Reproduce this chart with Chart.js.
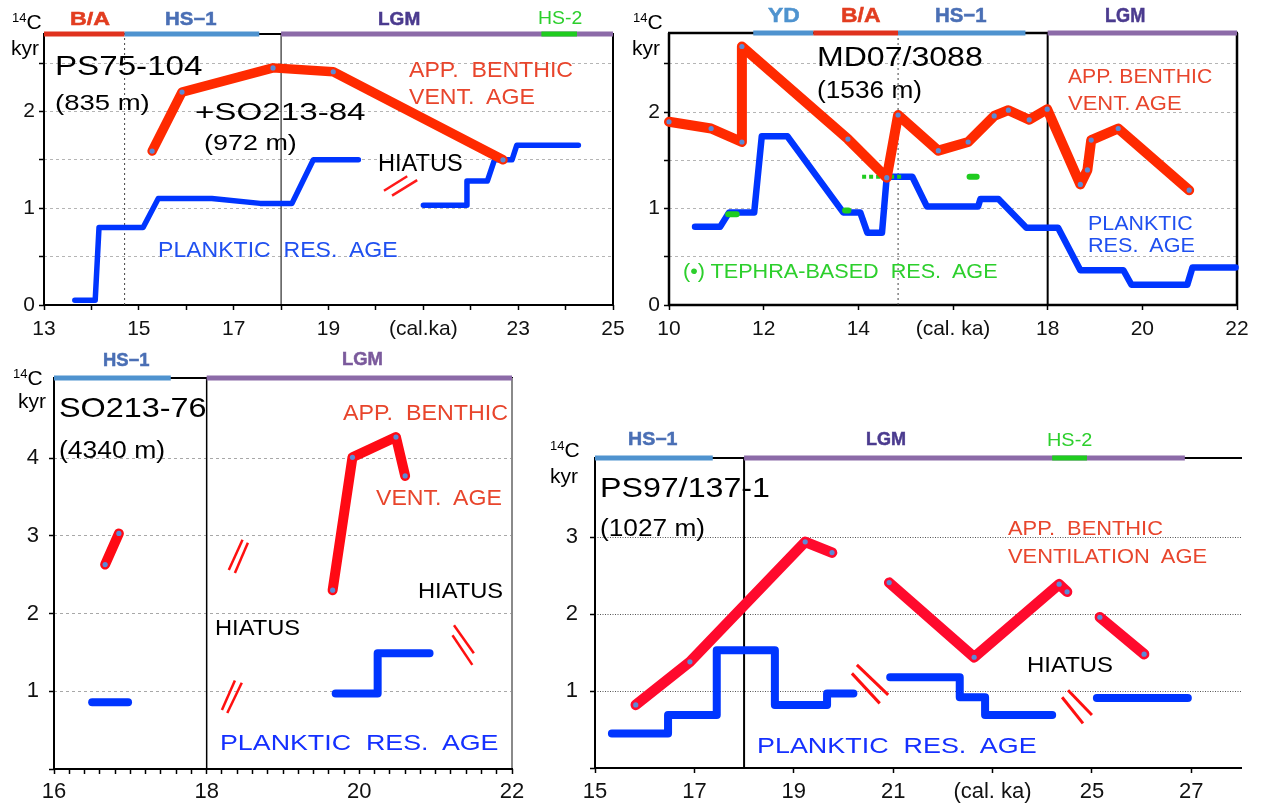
<!DOCTYPE html>
<html>
<head>
<meta charset="utf-8">
<script src="https://cdn.jsdelivr.net/npm/chart.js@4/dist/chart.umd.min.js"></script>
<style>
  body { margin:0; background:#fff; width:1264px; height:808px; position:relative; overflow:hidden;
         font-family:'Liberation Sans', Arial, sans-serif; color:#000; }
  canvas { position:absolute; }
  .t { position:absolute; white-space:pre; line-height:1; transform-origin:0 0; display:inline-block; }
  .t sup { font-size:13px; vertical-align:0; position:relative; top:-7px; }
  .p { font-weight:bold; -webkit-text-stroke:0.5px currentColor; }
  .red { color:#e8452c; }
  .blu { color:#2050f0; }
  .blu2 { color:#1530ff; }
  .grn { color:#2ccf2c; }
</style>
</head>
<body>

<canvas id="c1" width="640" height="340" style="left:0;top:0"></canvas>
<canvas id="c2" width="636" height="340" style="left:628px;top:0"></canvas>
<canvas id="c3" width="540" height="458" style="left:0;top:350px"></canvas>
<canvas id="c4" width="724" height="388" style="left:540px;top:420px"></canvas>

<!-- panel 1 : PS75-104 -->
<div class="t" style="left:12px;top:11px;font-size:21px"><sup>14</sup>C</div>
<div class="t" style="left:11px;top:37px;font-size:21px">kyr</div>
<div class="t p" style="left:70px;top:10px;font-size:18px;color:#e23d20" data-w="40">B/A</div>
<div class="t p" style="left:165px;top:10px;font-size:18px;color:#4a6fb5" data-w="52">HS−1</div>
<div class="t p" style="left:378px;top:9px;font-size:19px;color:#4b3b8f" data-w="42">LGM</div>
<div class="t grn" style="left:538px;top:8px;font-size:19px" data-w="44">HS-2</div>
<div class="t" style="left:55px;top:52px;font-size:28px" data-w="148">PS75-104</div>
<div class="t" style="left:55px;top:92px;font-size:22px" data-w="95">(835 m)</div>
<div class="t" style="left:195px;top:100px;font-size:24px" data-w="170">+SO213-84</div>
<div class="t" style="left:204px;top:132px;font-size:22px" data-w="93">(972 m)</div>
<div class="t red" style="left:409px;top:59px;font-size:22px" data-w="164">APP.  BENTHIC</div>
<div class="t red" style="left:409px;top:86px;font-size:22px" data-w="126">VENT.  AGE</div>
<div class="t" style="left:378px;top:152px;font-size:23px" data-w="85">HIATUS</div>
<div class="t blu" style="left:158px;top:239px;font-size:22px" data-w="240">PLANKTIC  RES.  AGE</div>

<!-- panel 2 : MD07/3088 -->
<div class="t" style="left:633px;top:11px;font-size:21px"><sup>14</sup>C</div>
<div class="t" style="left:632px;top:37px;font-size:21px">kyr</div>
<div class="t p" style="left:768px;top:5px;font-size:20px;color:#4f93cf" data-w="32">YD</div>
<div class="t p" style="left:841px;top:5px;font-size:20px;color:#e23d20" data-w="39">B/A</div>
<div class="t p" style="left:935px;top:5px;font-size:20px;color:#4a6fb5" data-w="52">HS−1</div>
<div class="t p" style="left:1105px;top:5px;font-size:20px;color:#4b3b8f" data-w="40">LGM</div>
<div class="t" style="left:817px;top:43px;font-size:28px" data-w="166">MD07/3088</div>
<div class="t" style="left:817px;top:79px;font-size:23px" data-w="105">(1536 m)</div>
<div class="t red" style="left:1068px;top:65px;font-size:21px" data-w="144">APP. BENTHIC</div>
<div class="t red" style="left:1068px;top:92px;font-size:21px" data-w="114">VENT. AGE</div>
<div class="t blu" style="left:1088px;top:212px;font-size:21px" data-w="105">PLANKTIC</div>
<div class="t blu" style="left:1088px;top:234px;font-size:21px" data-w="107">RES.  AGE</div>
<div class="t grn" style="left:683px;top:260px;font-size:21px" data-w="315">(•) TEPHRA-BASED  RES.  AGE</div>

<!-- panel 3 : SO213-76 -->
<div class="t" style="left:13px;top:367px;font-size:21px"><sup>14</sup>C</div>
<div class="t" style="left:18px;top:390px;font-size:21px">kyr</div>
<div class="t p" style="left:103px;top:351px;font-size:18px;color:#4a6fb5" data-w="47">HS−1</div>
<div class="t p" style="left:342px;top:350px;font-size:18px;color:#7b5a9c" data-w="41">LGM</div>
<div class="t" style="left:59px;top:394px;font-size:28px" data-w="148">SO213-76</div>
<div class="t" style="left:59px;top:439px;font-size:23px" data-w="106">(4340 m)</div>
<div class="t red" style="left:343px;top:402px;font-size:22px" data-w="165">APP.  BENTHIC</div>
<div class="t red" style="left:376px;top:487px;font-size:22px" data-w="126">VENT.  AGE</div>
<div class="t" style="left:215px;top:617px;font-size:22px" data-w="85">HIATUS</div>
<div class="t" style="left:418px;top:580px;font-size:22px" data-w="85">HIATUS</div>
<div class="t blu2" style="left:220px;top:732px;font-size:22px" data-w="279">PLANKTIC  RES.  AGE</div>

<!-- panel 4 : PS97/137-1 -->
<div class="t" style="left:550px;top:439px;font-size:21px"><sup>14</sup>C</div>
<div class="t" style="left:550px;top:465px;font-size:21px">kyr</div>
<div class="t p" style="left:628px;top:430px;font-size:18px;color:#4a6fb5" data-w="50">HS−1</div>
<div class="t p" style="left:866px;top:430px;font-size:18px;color:#4b3b8f" data-w="40">LGM</div>
<div class="t grn" style="left:1047px;top:430px;font-size:19px" data-w="45">HS-2</div>
<div class="t" style="left:600px;top:474px;font-size:28px" data-w="170">PS97/137-1</div>
<div class="t" style="left:600px;top:517px;font-size:23px" data-w="105">(1027 m)</div>
<div class="t red" style="left:1008px;top:517px;font-size:21px" data-w="155">APP.  BENTHIC</div>
<div class="t red" style="left:1008px;top:545px;font-size:21px" data-w="199">VENTILATION  AGE</div>
<div class="t" style="left:1027px;top:654px;font-size:22px" data-w="86">HIATUS</div>
<div class="t blu2" style="left:757px;top:735px;font-size:22px" data-w="280">PLANKTIC  RES.  AGE</div>

<script>
// ---------- PS75-104 (+SO213-84) ----------
const ps75Benthic = [[15.28,1.59],[15.91,2.20],[17.83,2.45],[19.10,2.41],[22.68,1.50]];
const ps75Planktic1 = [[13.65,0.05],[14.08,0.05],[14.16,0.80],[15.09,0.80],[15.41,1.10],[16.54,1.10],[17.56,1.05],[18.23,1.05],[18.68,1.50],[19.63,1.50]];
const ps75Planktic2 = [[21.00,1.03],[21.92,1.03],[21.92,1.28],[22.35,1.28],[22.50,1.50],[22.87,1.50],[22.97,1.65],[24.27,1.65]];
const ps75Hiatus = [[[20.17,1.18],[20.66,1.33]], [[20.34,1.13],[20.87,1.29]]];
const ps75Periods = [['B/A',13,14.7],['HS-1',14.7,17.54],['LGM',18,25],['HS-2',23.49,24.24]];
const ps75Dotted = [14.7];
const ps75Solid = [18];
const ps75XTicks = [13,14,15,16,17,18,19,20,21,22,23,24,25];
const ps75XLabels = ['13','','15','','17','','19','','(cal.ka)','','23','','25'];
const ps75YTicks = [0,0.5,1,1.5,2,2.5];
const ps75YLabels = ['0','','1','','2',''];

// ---------- MD07/3088 ----------
const md07Benthic = [[10.00,1.90],[10.89,1.83],[11.54,1.69],[11.54,2.68],[13.78,1.72],[14.60,1.32],[14.84,1.97],[15.69,1.60],
                     [16.32,1.69],[16.87,1.96],[17.17,2.02],[17.61,1.92],[17.99,2.03],[18.69,1.25],[18.84,1.40],[18.92,1.71],[19.49,1.83],[20.99,1.19]];
const md07Planktic = [[10.55,0.81],[11.08,0.81],[11.27,0.96],[11.80,0.96],[11.96,1.75],[12.50,1.75],[13.68,0.96],[14.04,0.96],[14.19,0.75],
                      [14.50,0.75],[14.60,1.33],[15.14,1.33],[15.45,1.02],[16.53,1.02],[16.58,1.10],[16.96,1.10],[17.55,0.80],[18.22,0.80],
                      [18.69,0.36],[19.60,0.36],[19.77,0.21],[20.95,0.21],[21.06,0.39],[21.97,0.39]];
const md07TephraLine = [[14.08,1.33],[14.93,1.33]];
const md07TephraDots = [[[11.25,0.94],[11.43,0.94]], [[13.72,0.98],[13.79,0.98]], [[16.35,1.33],[16.50,1.33]]];
const md07Periods = [['YD',11.78,13.05],['B/A',13.05,14.84],['HS-1',14.84,17.53],['LGM',18,22]];
const md07Dotted = [14.84];
const md07Solid = [18];
const md07XTicks = [10,12,14,16,18,20,22];
const md07XLabels = ['10','12','14','(cal. ka)','18','20','22'];
const md07YTicks = [0,0.5,1,1.5,2,2.5];
const md07YLabels = ['0','','1','','2',''];

// ---------- SO213-76 ----------
const so76Benthic1 = [[16.67,2.63],[16.85,3.03]];
const so76Benthic2 = [[19.65,2.30],[19.91,4.01],[20.48,4.27],[20.60,3.77]];
const so76Planktic1 = [[16.50,0.86],[16.97,0.86]];
const so76Planktic2 = [[19.69,0.97],[20.24,0.97],[20.24,1.49],[20.92,1.49]];
const so76Hiatus = [[[18.29,2.56],[18.47,2.95]], [[18.37,2.52],[18.54,2.91]],
                    [[18.20,0.76],[18.37,1.14]], [[18.27,0.72],[18.46,1.11]],
                    [[21.24,1.85],[21.50,1.49]], [[21.22,1.72],[21.48,1.34]]];
const so76Periods = [['HS-1',16,17.53],['LGM',18,22]];
const so76Solid = [18];
const so76XLabelled = [16,18,20,22];
const so76YTicks = [0,1,2,3,4];
const so76YLabels = ['','1','2','3','4'];

// ---------- PS97/137-1 ----------
const ps97Benthic1 = [[15.82,0.82],[16.91,1.38],[19.23,2.94],[19.77,2.80]];
const ps97Benthic2 = [[20.92,2.41],[22.63,1.44],[24.34,2.39],[24.50,2.29]];
const ps97Benthic3 = [[25.16,1.96],[26.05,1.48]];
const ps97Planktic1 = [[15.34,0.45],[16.47,0.45],[16.47,0.69],[17.45,0.69],[17.45,1.53],[18.62,1.53],[18.62,0.82],[19.67,0.82],[19.67,0.97],[20.20,0.97]];
const ps97Planktic2 = [[20.94,1.18],[22.34,1.18],[22.34,0.92],[22.85,0.92],[22.85,0.69],[24.20,0.69]];
const ps97Planktic3 = [[25.10,0.91],[26.93,0.91]];
const ps97Hiatus = [[[20.27,1.34],[20.90,0.95]], [[20.17,1.23],[20.73,0.84]],
                    [[24.52,1.01],[25.00,0.69]], [[24.40,0.92],[24.82,0.58]]];
const ps97Periods = [['HS-1',15,17.37],['LGM',18,26.87],['HS-2',24.2,24.9]];
const ps97Solid = [18];
const ps97XTicks = [15,17,19,21,23,25,27];
const ps97XLabels = ['15','17','19','21','(cal. ka)','25','27'];
const ps97YTicks = [0,1,2,3];
const ps97YLabels = ['','1','2','3'];

// ---------- styling ----------
const periodColors = { 'B/A':'#e0321e', 'HS-1':'#4f93cf', 'YD':'#4f93cf', 'LGM':'#8c6ba8', 'HS-2':'#1fcc1f' };
const BLUE = '#0035ff';
const DOT = '#5b8ad6';

const pts = arr => arr.map(p => ({x:p[0], y:p[1]}));

function line(arr, color, width, order, extra) {
  return Object.assign({
    data: pts(arr), borderColor: color, borderWidth: width, pointRadius: 0,
    borderCapStyle: 'round', borderJoinStyle: 'round', tension: 0, fill: false,
    clip: false, order: order
  }, extra || {});
}

function benthic(arr, color, width) {
  return line(arr, color, width, 2, { pointRadius: 2.6, pointBackgroundColor: DOT, pointBorderWidth: 0 });
}

function periodSets(periods, ymax) {
  return periods.slice().reverse().map(p =>
    line([[p[1],ymax],[p[2],ymax]], periodColors[p[0]], 5, 0, { borderCapStyle: 'butt' }));
}

function vlines(xs, ymax, color, width, dash) {
  return xs.map(x => line([[x,0],[x,ymax]], color, width, 6, { borderDash: dash || [], borderCapStyle: 'butt' }));
}

const framePlugin = {
  id: 'frame',
  beforeDatasetsDraw(chart, args, o) {
    const { ctx, chartArea: a } = chart;
    const side = (c, x1, y1, x2, y2) => {
      if (!c) return;
      ctx.beginPath(); ctx.strokeStyle = c; ctx.moveTo(x1,y1); ctx.lineTo(x2,y2); ctx.stroke();
    };
    ctx.save();
    ctx.lineWidth = o.width || 2;
    side(o.top, a.left - 1, a.top, a.right + 1, a.top);
    side(o.right, a.right, a.top, a.right, a.bottom);
    side(o.bottom, a.left - 1, a.bottom, a.right + 1, a.bottom);
    side(o.left, a.left, a.top, a.left, a.bottom + 1);
    ctx.restore();
  }
};

function panel(id, cfg) {
  const font = { family: "'Liberation Sans', Arial, sans-serif", size: cfg.fontSize };
  new Chart(document.getElementById(id), {
    type: 'line',
    data: { datasets: cfg.datasets },
    plugins: [framePlugin],
    options: {
      responsive: false, animation: false, events: [],
      layout: { padding: cfg.pad },
      plugins: { legend: { display: false }, tooltip: { enabled: false }, frame: cfg.frame },
      scales: {
        x: {
          type: 'linear', min: cfg.x[0], max: cfg.x[1],
          afterFit: s => { s.height = cfg.xh; },
          afterBuildTicks: s => { s.ticks = cfg.xTicks.map(v => ({ value: v })); },
          ticks: { autoSkip: false, maxRotation: 0, padding: cfg.xPad, color: '#111', font,
                   callback: (v, i) => cfg.xLabels[i] },
          grid: { drawOnChartArea: false, tickLength: 5, tickColor: '#000', tickWidth: 1.5 },
          border: { display: false }
        },
        y: {
          type: 'linear', min: 0, max: cfg.ymax,
          afterFit: s => { s.width = cfg.yw; },
          afterBuildTicks: s => { s.ticks = cfg.yTicks.map(v => ({ value: v })); },
          ticks: { autoSkip: false, padding: cfg.yPad, color: '#111', font,
                   callback: (v, i) => cfg.yLabels[i] },
          grid: { color: cfg.gridColor, tickLength: 5, tickColor: '#000', tickWidth: 1.5, lineWidth: 1 },
          border: { display: false, dash: cfg.gridDash }
        }
      }
    }
  });
}

// panel 1
const p1Top = 2.8;
panel('c1', {
  pad: { left: 0, top: 34, right: 27, bottom: 0 }, yw: 44, xh: 35,
  x: [13, 25], ymax: p1Top, fontSize: 21, xPad: 7, yPad: 4,
  xTicks: ps75XTicks, xLabels: ps75XLabels, yTicks: ps75YTicks, yLabels: ps75YLabels,
  gridColor: '#b5b5b5', gridDash: [3, 3],
  frame: { top: '#000', right: '#000', bottom: '#000', left: '#000', width: 2 },
  datasets: [
    ...periodSets(ps75Periods, p1Top),
    ...ps75Hiatus.map(h => line(h, '#ff1a1a', 2.5, 1, { borderCapStyle: 'butt' })),
    benthic(ps75Benthic, '#ff2a00', 9.5),
    line(ps75Planktic1, BLUE, 5.5, 4),
    line(ps75Planktic2, BLUE, 5.5, 4),
    ...vlines(ps75Dotted, p1Top, '#444', 1, [2, 3]),
    ...vlines(ps75Solid, p1Top, '#000', 1)
  ]
});

// panel 2
const p2Top = 2.82;
panel('c2', {
  pad: { left: 0, top: 33, right: 27, bottom: 0 }, yw: 41, xh: 35,
  x: [10, 22], ymax: p2Top, fontSize: 21, xPad: 7, yPad: 4,
  xTicks: md07XTicks, xLabels: md07XLabels, yTicks: md07YTicks, yLabels: md07YLabels,
  gridColor: '#b5b5b5', gridDash: [3, 3],
  frame: { top: '#000', right: '#000', bottom: '#000', left: '#000', width: 2.5 },
  datasets: [
    ...periodSets(md07Periods, p2Top),
    benthic(md07Benthic, '#ff2a00', 10),
    line(md07TephraLine, '#1fcc1f', 4, 3, { borderDash: [4, 3], borderCapStyle: 'butt' }),
    ...md07TephraDots.map(d => line(d, '#1fcc1f', 6, 3)),
    line(md07Planktic, BLUE, 6.5, 4),
    ...vlines(md07Dotted, p2Top, '#444', 1, [2, 3]),
    ...vlines(md07Solid, p2Top, '#000', 2)
  ]
});

// panel 3
const p3Top = 5.03;
const so76XTicks = [];
for (let v = 16; v <= 22.001; v += 0.2) so76XTicks.push(Math.round(v * 10) / 10);
panel('c3', {
  pad: { left: 0, top: 28, right: 28, bottom: 0 }, yw: 54, xh: 39,
  x: [16, 22], ymax: p3Top, fontSize: 22, xPad: 5, yPad: 10,
  xTicks: so76XTicks, xLabels: so76XTicks.map(v => so76XLabelled.includes(v) ? String(v) : ''),
  yTicks: so76YTicks, yLabels: so76YLabels,
  gridColor: '#a8a8a8', gridDash: [3, 3],
  frame: { top: '#000', right: '#8a8a8a', bottom: '#000', left: '#000', width: 2 },
  datasets: [
    ...periodSets(so76Periods, p3Top),
    ...so76Hiatus.map(h => line(h, '#ff1010', 2.5, 1, { borderCapStyle: 'butt' })),
    benthic(so76Benthic1, '#ff0a14', 10),
    benthic(so76Benthic2, '#ff0a14', 10),
    line(so76Planktic1, BLUE, 8, 4),
    line(so76Planktic2, BLUE, 8, 4),
    ...vlines(so76Solid, p3Top, '#000', 1.5)
  ]
});

// panel 4
const p4Top = 4.03;
panel('c4', {
  pad: { left: 0, top: 38, right: 23, bottom: 0 }, yw: 55, xh: 40,
  x: [15, 28], ymax: p4Top, fontSize: 22, xPad: 6, yPad: 12,
  xTicks: ps97XTicks, xLabels: ps97XLabels, yTicks: ps97YTicks, yLabels: ps97YLabels,
  gridColor: '#555', gridDash: [1, 1.5],
  frame: { top: '#000', bottom: '#000', left: '#000', width: 2 },
  datasets: [
    ...periodSets(ps97Periods, p4Top),
    ...ps97Hiatus.map(h => line(h, '#ff1010', 3, 1, { borderCapStyle: 'butt' })),
    benthic(ps97Benthic1, '#ff0a2d', 10.5),
    benthic(ps97Benthic2, '#ff0a2d', 10.5),
    benthic(ps97Benthic3, '#ff0a2d', 10.5),
    line(ps97Planktic1, BLUE, 8, 4),
    line(ps97Planktic2, BLUE, 8, 4),
    line(ps97Planktic3, BLUE, 8, 4),
    ...vlines(ps97Solid, p4Top, '#000', 2)
  ]
});

// stretch annotation texts to the widths measured on the figure
document.querySelectorAll('.t[data-w]').forEach(el => {
  el.style.transform = 'scaleX(' + (el.dataset.w / el.offsetWidth).toFixed(3) + ')';
});
</script>
</body>
</html>
